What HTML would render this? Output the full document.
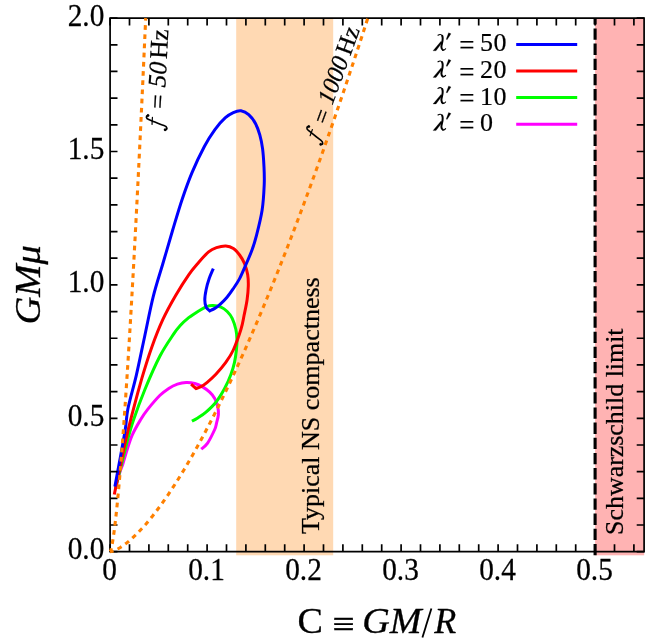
<!DOCTYPE html>
<html><head><meta charset="utf-8"><title>plot</title>
<style>html,body{margin:0;padding:0;background:#fff;}body{width:664px;height:644px;overflow:hidden;position:relative;font-family:"Liberation Serif",serif;}</style></head>
<body>
<svg width="664" height="644" viewBox="0 0 664 644" style="position:absolute;left:0;top:0;will-change:transform">
<rect x="0" y="0" width="664" height="644" fill="#fff"/>
<rect x="236.2" y="18" width="97.0" height="537.3" fill="#FFD9B3"/>
<rect x="595.1" y="18" width="49.1" height="537.3" fill="#FFB3B3"/>
<path d="M115.5 488.0 C116.2 485.4 118.7 476.3 119.9 472.2 C121.2 468.1 121.9 467.0 123.0 463.5 C124.1 460.0 125.2 455.9 126.7 451.1 C128.2 446.3 130.0 440.1 132.3 434.9 C134.6 429.7 137.9 424.2 140.4 420.0 C142.9 415.8 144.2 413.7 147.5 409.6 C150.8 405.5 156.5 398.8 160.0 395.3 C163.5 391.8 165.8 390.4 168.7 388.5 C171.6 386.6 174.5 385.2 177.4 384.2 C180.3 383.2 183.2 382.6 186.1 382.5 C189.0 382.4 192.1 382.8 194.8 383.5 C197.5 384.2 199.7 385.2 202.2 386.6 C204.7 388.1 207.6 390.2 209.7 392.2 C211.8 394.2 213.3 395.9 214.7 398.4 C216.0 400.9 217.2 404.4 217.8 407.1 C218.4 409.8 218.6 411.9 218.4 414.6 C218.2 417.3 217.1 420.8 216.5 423.3 C215.9 425.8 216.2 426.2 214.7 429.5 C213.2 432.8 209.8 439.8 207.6 443.1 C205.3 446.4 202.3 448.2 201.2 449.2" fill="none" stroke="#FF00FF" stroke-width="3" stroke-linejoin="miter"/>
<path d="M115.5 488.0 C117.0 482.2 122.2 461.3 124.2 453.5 C126.2 445.7 125.8 446.7 127.3 441.1 C128.8 435.5 130.6 428.5 133.5 420.0 C136.4 411.5 140.3 400.7 144.7 390.0 C149.1 379.3 155.2 365.2 160.1 355.8 C165.0 346.4 170.8 338.4 174.1 333.4 C177.4 328.4 177.6 328.4 180.0 325.8 C182.4 323.2 185.6 320.2 188.7 317.7 C191.8 315.2 195.7 312.8 198.6 311.0 C201.5 309.2 203.7 307.7 206.1 306.8 C208.5 305.9 210.4 305.4 212.9 305.5 C215.4 305.6 218.6 306.1 221.0 307.1 C223.4 308.1 225.3 309.6 227.2 311.5 C229.1 313.4 230.8 315.3 232.2 318.3 C233.6 321.3 235.1 325.9 235.9 329.5 C236.7 333.1 236.9 336.6 237.0 340.0 C237.1 343.4 236.8 346.3 236.4 350.0 C236.0 353.7 235.4 358.3 234.5 362.4 C233.6 366.5 232.5 370.4 230.8 374.8 C229.2 379.2 227.1 383.9 224.6 388.5 C222.1 393.1 219.0 398.3 215.9 402.2 C212.8 406.1 209.1 409.4 206.0 412.1 C202.9 414.8 199.6 416.8 197.3 418.3 C195.0 419.8 192.9 420.7 192.0 421.2" fill="none" stroke="#00FF00" stroke-width="3" stroke-linejoin="miter"/>
<path d="M114.3 494.5 C116.3 485.2 122.9 452.9 126.1 438.6 C129.3 424.3 130.9 419.0 133.5 408.9 C136.1 398.8 138.9 388.4 141.9 378.1 C144.9 367.9 148.2 357.2 151.7 347.4 C155.2 337.6 158.9 328.0 162.9 319.4 C166.9 310.8 171.2 303.1 175.5 295.7 C179.8 288.3 184.8 280.4 188.7 274.8 C192.5 269.2 195.3 266.2 198.6 262.4 C201.9 258.6 205.6 254.4 208.6 251.9 C211.6 249.4 213.6 248.6 216.5 247.6 C219.4 246.6 223.0 245.8 225.8 245.9 C228.6 246.1 231.1 247.0 233.4 248.5 C235.7 250.0 237.7 252.5 239.6 255.0 C241.5 257.5 243.2 260.4 244.6 263.7 C245.9 267.0 247.1 271.1 247.7 274.8 C248.3 278.5 248.4 281.9 248.3 286.0 C248.2 290.1 247.8 294.7 247.1 299.7 C246.4 304.7 245.0 310.8 244.0 315.8 C243.0 320.8 242.7 323.8 240.9 329.5 C239.1 335.2 235.8 344.5 233.3 350.0 C230.8 355.5 228.7 358.4 225.8 362.4 C222.9 366.4 219.0 370.9 215.9 374.2 C212.8 377.5 209.7 380.2 207.2 382.3 C204.7 384.4 202.9 385.6 201.0 386.6 C199.1 387.6 196.8 388.2 196.0 388.5 C195.2 387.8 191.9 384.9 191.1 384.2" fill="none" stroke="#FF0000" stroke-width="3" stroke-linejoin="miter"/>
<path d="M114.9 486.5 C116.6 477.5 122.6 445.3 124.8 432.4 C127.0 419.5 126.0 418.4 127.9 408.9 C129.8 399.4 133.5 387.4 136.3 375.3 C139.1 363.2 141.9 349.2 144.7 336.2 C147.5 323.2 150.1 309.2 153.1 297.1 C156.1 285.0 159.6 274.7 162.9 263.5 C166.2 252.3 169.5 240.7 172.7 230.0 C175.9 219.3 178.9 208.9 182.1 199.4 C185.3 189.9 188.2 181.7 191.9 172.8 C195.6 164.0 200.7 153.5 204.5 146.3 C208.3 139.1 211.4 134.4 214.9 129.6 C218.4 124.8 222.3 120.5 225.4 117.7 C228.5 114.9 230.7 113.8 233.3 112.6 C235.9 111.4 238.4 110.4 241.0 110.8 C243.6 111.2 246.3 112.5 248.7 114.7 C251.1 116.9 253.8 120.3 255.6 123.7 C257.4 127.1 258.6 130.7 259.8 134.9 C261.0 139.1 261.9 143.6 262.6 148.9 C263.3 154.2 263.7 161.0 264.0 167.0 C264.3 173.0 264.5 177.8 264.2 185.0 C263.9 192.2 263.4 201.8 262.1 210.2 C260.8 218.6 258.2 228.7 256.5 235.3 C254.8 241.9 253.8 245.1 252.0 250.0 C250.2 254.9 247.9 260.1 245.8 264.9 C243.7 269.7 241.7 274.7 239.6 278.6 C237.5 282.5 235.6 285.3 233.4 288.5 C231.2 291.7 228.9 295.1 226.6 297.8 C224.3 300.5 221.8 302.9 219.8 304.7 C217.8 306.5 216.5 307.4 214.8 308.4 C213.1 309.4 210.6 310.5 209.8 310.9 C209.2 310.3 206.9 309.0 206.1 307.1 C205.3 305.2 204.8 302.6 204.8 299.7 C204.8 296.8 205.4 293.3 206.1 289.8 C206.8 286.3 208.0 282.1 209.2 278.6 C210.4 275.1 212.6 270.3 213.3 268.6" fill="none" stroke="#0000FF" stroke-width="3" stroke-linejoin="miter"/>
<path d="M595.1 555.2 V18" stroke="#000" stroke-width="3.1" stroke-dasharray="11.3 3.86" fill="none"/>
<g stroke="#000" stroke-width="1.7" fill="none">
<path d="M110.1 18.1 H644.1 V551.7 H110.1 Z"/>
<path d="M110.10 551.7 v-7.4 M110.10 18.1 v7.4 M129.50 551.7 v-7.4 M129.50 18.1 v7.4 M148.90 551.7 v-7.4 M148.90 18.1 v7.4 M168.30 551.7 v-7.4 M168.30 18.1 v7.4 M187.70 551.7 v-7.4 M187.70 18.1 v7.4 M207.10 551.7 v-7.4 M207.10 18.1 v7.4 M226.50 551.7 v-7.4 M226.50 18.1 v7.4 M245.90 551.7 v-7.4 M245.90 18.1 v7.4 M265.30 551.7 v-7.4 M265.30 18.1 v7.4 M284.70 551.7 v-7.4 M284.70 18.1 v7.4 M304.10 551.7 v-7.4 M304.10 18.1 v7.4 M323.50 551.7 v-7.4 M323.50 18.1 v7.4 M342.90 551.7 v-7.4 M342.90 18.1 v7.4 M362.30 551.7 v-7.4 M362.30 18.1 v7.4 M381.70 551.7 v-7.4 M381.70 18.1 v7.4 M401.10 551.7 v-7.4 M401.10 18.1 v7.4 M420.50 551.7 v-7.4 M420.50 18.1 v7.4 M439.90 551.7 v-7.4 M439.90 18.1 v7.4 M459.30 551.7 v-7.4 M459.30 18.1 v7.4 M478.70 551.7 v-7.4 M478.70 18.1 v7.4 M498.10 551.7 v-7.4 M498.10 18.1 v7.4 M517.50 551.7 v-7.4 M517.50 18.1 v7.4 M536.90 551.7 v-7.4 M536.90 18.1 v7.4 M556.30 551.7 v-7.4 M556.30 18.1 v7.4 M575.70 551.7 v-7.4 M575.70 18.1 v7.4 M595.10 551.7 v-7.4 M595.10 18.1 v7.4 M614.50 551.7 v-7.4 M614.50 18.1 v7.4 M633.90 551.7 v-7.4 M633.90 18.1 v7.4 M110.1 551.70 h7.4 M644.1 551.70 h-7.4 M110.1 525.02 h7.4 M644.1 525.02 h-7.4 M110.1 498.34 h7.4 M644.1 498.34 h-7.4 M110.1 471.66 h7.4 M644.1 471.66 h-7.4 M110.1 444.98 h7.4 M644.1 444.98 h-7.4 M110.1 418.30 h7.4 M644.1 418.30 h-7.4 M110.1 391.62 h7.4 M644.1 391.62 h-7.4 M110.1 364.94 h7.4 M644.1 364.94 h-7.4 M110.1 338.26 h7.4 M644.1 338.26 h-7.4 M110.1 311.58 h7.4 M644.1 311.58 h-7.4 M110.1 284.90 h7.4 M644.1 284.90 h-7.4 M110.1 258.22 h7.4 M644.1 258.22 h-7.4 M110.1 231.54 h7.4 M644.1 231.54 h-7.4 M110.1 204.86 h7.4 M644.1 204.86 h-7.4 M110.1 178.18 h7.4 M644.1 178.18 h-7.4 M110.1 151.50 h7.4 M644.1 151.50 h-7.4 M110.1 124.82 h7.4 M644.1 124.82 h-7.4 M110.1 98.14 h7.4 M644.1 98.14 h-7.4 M110.1 71.46 h7.4 M644.1 71.46 h-7.4 M110.1 44.78 h7.4 M644.1 44.78 h-7.4 M110.1 18.10 h7.4 M644.1 18.10 h-7.4"/>
</g>
<g fill="none" stroke="#FF8000" stroke-width="3.1">
<path d="M110.10 551.70 L110.27 551.52 L110.53 551.00 L110.82 550.15 L111.15 548.98 L111.51 547.50 L111.88 545.71 L112.28 543.61 L112.69 541.21 L113.12 538.50 L113.57 535.49 L114.02 532.18 L114.49 528.57 L114.97 524.66 L115.47 520.46 L115.97 515.96 L116.49 511.16 L117.01 506.08 L117.54 500.70 L118.08 495.03 L118.63 489.06 L119.19 482.81 L119.76 476.27 L120.33 469.44 L120.92 462.32 L121.51 454.92 L122.10 447.22 L122.71 439.24 L123.32 430.98 L123.93 422.43 L124.56 413.60 L125.19 404.48 L125.82 395.07 L126.46 385.39 L127.11 375.42 L127.77 365.17 L128.42 354.63 L129.09 343.82 L129.76 332.72 L130.43 321.35 L131.11 309.69 L131.80 297.75 L132.49 285.53 L133.19 273.03 L133.89 260.26 L134.59 247.20 L135.30 233.87 L136.02 220.25 L136.74 206.36 L137.46 192.20 L138.19 177.75 L138.92 163.03 L139.66 148.03 L140.40 132.75 L141.14 117.20 L141.89 101.37 L142.65 85.27 L143.40 68.89 L144.16 52.23 L144.93 35.30 L145.70 18.10" stroke-dasharray="4.7 4.5" stroke-dashoffset="1"/>
<path d="M110.10 551.70 L111.36 551.52 L113.20 551.00 L115.35 550.15 L117.73 548.98 L120.29 547.50 L123.02 545.71 L125.88 543.61 L128.88 541.21 L131.98 538.50 L135.19 535.49 L138.50 532.18 L141.91 528.57 L145.39 524.66 L148.96 520.46 L152.61 515.96 L156.33 511.16 L160.12 506.08 L163.98 500.70 L167.90 495.03 L171.89 489.06 L175.93 482.81 L180.04 476.27 L184.20 469.44 L188.41 462.32 L192.68 454.92 L197.00 447.22 L201.37 439.24 L205.79 430.98 L210.26 422.43 L214.77 413.60 L219.33 404.48 L223.93 395.07 L228.58 385.39 L233.27 375.42 L238.00 365.17 L242.77 354.63 L247.58 343.82 L252.43 332.72 L257.31 321.35 L262.24 309.69 L267.20 297.75 L272.20 285.53 L277.24 273.03 L282.31 260.26 L287.41 247.20 L292.55 233.87 L297.73 220.25 L302.93 206.36 L308.17 192.20 L313.44 177.75 L318.74 163.03 L324.08 148.03 L329.44 132.75 L334.84 117.20 L340.26 101.37 L345.72 85.27 L351.20 68.89 L356.72 52.23 L362.26 35.30 L367.83 18.10" stroke-dasharray="4.68 4.5" stroke-dashoffset="1.2"/>
</g>
<g font-family="Liberation Serif, serif" font-size="29.3" fill="#000" stroke="#000" stroke-width="0.25">
<text transform="translate(104.3,559.2) scale(1,1.07)" text-anchor="end">0.0</text>
<text transform="translate(104.3,425.8) scale(1,1.07)" text-anchor="end">0.5</text>
<text transform="translate(104.3,292.4) scale(1,1.07)" text-anchor="end">1.0</text>
<text transform="translate(104.3,159.0) scale(1,1.07)" text-anchor="end">1.5</text>
<text transform="translate(104.3,25.6) scale(1,1.07)" text-anchor="end">2.0</text>
<text transform="translate(109.5,579.8) scale(1,1.07)" text-anchor="middle">0</text>
<text transform="translate(206.5,579.8) scale(1,1.07)" text-anchor="middle">0.1</text>
<text transform="translate(303.5,579.8) scale(1,1.07)" text-anchor="middle">0.2</text>
<text transform="translate(400.5,579.8) scale(1,1.07)" text-anchor="middle">0.3</text>
<text transform="translate(497.5,579.8) scale(1,1.07)" text-anchor="middle">0.4</text>
<text transform="translate(594.5,579.8) scale(1,1.07)" text-anchor="middle">0.5</text>
</g>
<g font-family="Liberation Serif, serif" font-size="36" fill="#000" stroke="#000" stroke-width="0.3">
<text transform="translate(297.6,632.6) scale(1.06,1)">C</text>
<text transform="translate(332.2,636.0) scale(1.1,1)">≡</text>
<text transform="translate(362.2,632.6) scale(1.06,1)" font-style="italic">GM</text>
<path d="M422.4 637.6 L431.4 608.4" stroke-width="1.8" fill="none"/>
<text transform="translate(434.2,632.6) scale(1.0,1)" font-style="italic">R</text>
<text transform="translate(40,284.8) rotate(-90) scale(1.075,1)" text-anchor="middle" font-style="italic">GMμ</text>
</g>
<text transform="translate(319.2,534.0) rotate(-90) scale(1.016,1)" stroke="#000" stroke-width="0.25" font-family="Liberation Serif, serif" font-size="25.6" fill="#000">Typical NS compactness</text>
<text transform="translate(623.0,534.9) rotate(-90) scale(1.012,1)" stroke="#000" stroke-width="0.25" font-family="Liberation Serif, serif" font-size="25.6" fill="#000">Schwarzschild limit</text>
<g transform="translate(162.9,126.8) rotate(-86.7) scale(1.000)" font-family="Liberation Serif, serif" font-size="25.5" fill="#000" stroke="#000" stroke-width="0.25">
<g fill="none" stroke="#000" stroke-linecap="round" stroke-linejoin="round"><path d="M-2.9 2.6 C-2.5 4.8 0.2 4.8 1.3 1.0 C2.3 -3 4.2 -8 5.2 -11 C5.6 -12.2 6.0 -13.4 6.4 -14.6 C7.2 -17.3 9.6 -17.9 10.5 -15.7" stroke-width="1.7"/><path d="M1.8 -11 H8.8" stroke-width="1.2"/></g><circle cx="-2.8" cy="2.4" r="1.25"/><circle cx="10.4" cy="-15.5" r="1.25"/>
<text x="17.8" y="1.8">=</text>
<text x="39.2" y="0" font-style="italic">50</text>
<text x="67.6" y="0">Hz</text>
</g>
<g transform="translate(319.4,141.0) rotate(-69.9) scale(0.957)" font-family="Liberation Serif, serif" font-size="25.5" fill="#000" stroke="#000" stroke-width="0.25">
<g fill="none" stroke="#000" stroke-linecap="round" stroke-linejoin="round"><path d="M-2.9 2.6 C-2.5 4.8 0.2 4.8 1.3 1.0 C2.3 -3 4.2 -8 5.2 -11 C5.6 -12.2 6.0 -13.4 6.4 -14.6 C7.2 -17.3 9.6 -17.9 10.5 -15.7" stroke-width="1.7"/><path d="M1.8 -11 H8.8" stroke-width="1.2"/></g><circle cx="-2.8" cy="2.4" r="1.25"/><circle cx="10.4" cy="-15.5" r="1.25"/>
<text x="17.8" y="1.8">=</text>
<text x="39.2" y="0" font-style="italic">1000</text>
<text x="94.0" y="0">Hz</text>
</g>
<g font-family="Liberation Serif, serif" font-size="26" fill="#000" stroke="#000" stroke-width="0.2">
<g transform="translate(0,0.0)"><g fill="none" stroke="#000" stroke-linecap="round"><path d="M438.0 35.2 C439.4 34.2 441.2 34.0 442.3 35.8" stroke-width="1.1"/><path d="M442.2 35.8 C443.9 39.4 441.2 44.4 441.4 47.0 C441.5 48.6 442.0 49.5 442.8 49.9" stroke-width="2"/><path d="M442.6 49.9 C443.7 50.5 444.8 49.9 445.6 48.8" stroke-width="1.1"/></g><path d="M441.0 41.3 L433.0 50.8 L436.0 50.8 L442.2 42.6 Z"/><path d="M448.6 32.7 L451.0 33.8 L447.1 39.8 L446.2 39.3 Z"/></g>
<text x="466.8" y="54.1" text-anchor="middle" font-size="27">=</text>
<text x="479.9" y="51.4" letter-spacing="0.7">50</text>
<path d="M516.2 44.4 H577.2" stroke="#0000FF" stroke-width="3" fill="none"/>
<g transform="translate(0,26.6)"><g fill="none" stroke="#000" stroke-linecap="round"><path d="M438.0 35.2 C439.4 34.2 441.2 34.0 442.3 35.8" stroke-width="1.1"/><path d="M442.2 35.8 C443.9 39.4 441.2 44.4 441.4 47.0 C441.5 48.6 442.0 49.5 442.8 49.9" stroke-width="2"/><path d="M442.6 49.9 C443.7 50.5 444.8 49.9 445.6 48.8" stroke-width="1.1"/></g><path d="M441.0 41.3 L433.0 50.8 L436.0 50.8 L442.2 42.6 Z"/><path d="M448.6 32.7 L451.0 33.8 L447.1 39.8 L446.2 39.3 Z"/></g>
<text x="466.8" y="80.7" text-anchor="middle" font-size="27">=</text>
<text x="479.9" y="78.0" letter-spacing="0.7">20</text>
<path d="M516.2 71.0 H577.2" stroke="#FF0000" stroke-width="3" fill="none"/>
<g transform="translate(0,53.2)"><g fill="none" stroke="#000" stroke-linecap="round"><path d="M438.0 35.2 C439.4 34.2 441.2 34.0 442.3 35.8" stroke-width="1.1"/><path d="M442.2 35.8 C443.9 39.4 441.2 44.4 441.4 47.0 C441.5 48.6 442.0 49.5 442.8 49.9" stroke-width="2"/><path d="M442.6 49.9 C443.7 50.5 444.8 49.9 445.6 48.8" stroke-width="1.1"/></g><path d="M441.0 41.3 L433.0 50.8 L436.0 50.8 L442.2 42.6 Z"/><path d="M448.6 32.7 L451.0 33.8 L447.1 39.8 L446.2 39.3 Z"/></g>
<text x="466.8" y="107.3" text-anchor="middle" font-size="27">=</text>
<text x="479.9" y="104.6" letter-spacing="0.7">10</text>
<path d="M516.2 97.6 H577.2" stroke="#00FF00" stroke-width="3" fill="none"/>
<g transform="translate(0,79.8)"><g fill="none" stroke="#000" stroke-linecap="round"><path d="M438.0 35.2 C439.4 34.2 441.2 34.0 442.3 35.8" stroke-width="1.1"/><path d="M442.2 35.8 C443.9 39.4 441.2 44.4 441.4 47.0 C441.5 48.6 442.0 49.5 442.8 49.9" stroke-width="2"/><path d="M442.6 49.9 C443.7 50.5 444.8 49.9 445.6 48.8" stroke-width="1.1"/></g><path d="M441.0 41.3 L433.0 50.8 L436.0 50.8 L442.2 42.6 Z"/><path d="M448.6 32.7 L451.0 33.8 L447.1 39.8 L446.2 39.3 Z"/></g>
<text x="466.8" y="133.9" text-anchor="middle" font-size="27">=</text>
<text x="479.9" y="131.2" letter-spacing="0.7">0</text>
<path d="M516.2 124.2 H577.2" stroke="#FF00FF" stroke-width="3" fill="none"/>
</g>
</svg>
</body></html>
